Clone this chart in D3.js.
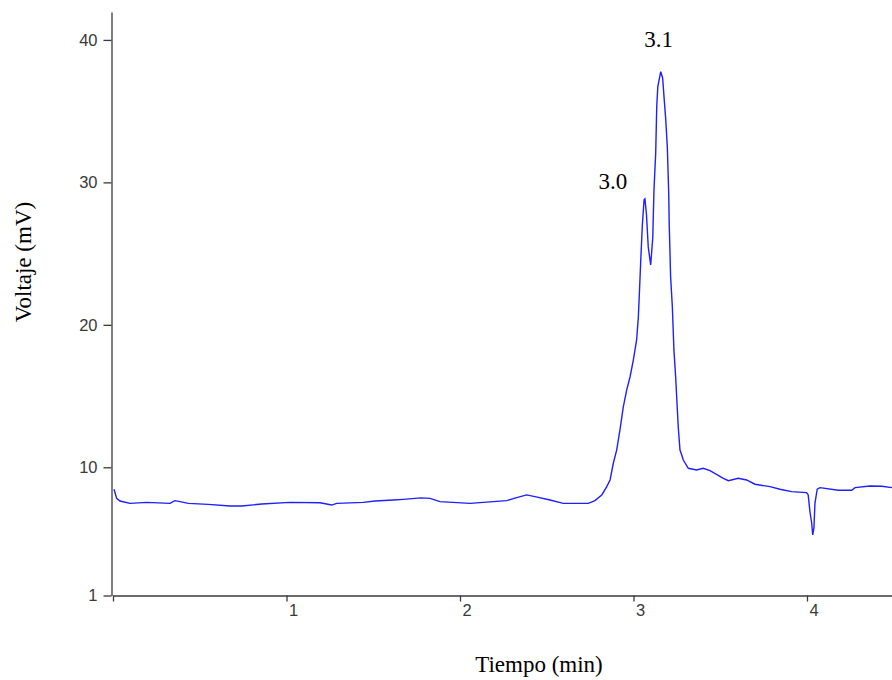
<!DOCTYPE html>
<html>
<head>
  <meta charset="UTF-8">
  <style>
    body { margin: 0; background: #fff; }
    .axis-marks text { font-family: 'Liberation Sans', Arial, sans-serif; font-size: 16.5px; fill: #3a3a3a; }
    .axis-marks path, .axis-marks line { stroke: #3a3a3a; stroke-width: 1.3px; }
    .axis-label, .peak-label { font-family: 'Liberation Serif', 'Times New Roman', serif; font-size: 23px; fill: #000; }
  </style>
</head>
<body>
  <svg id="chart" width="892" height="680"></svg>
  <script src="https://d3js.org/d3.v7.min.js"></script>
  <script>
    // time (min) and voltage (mV)
    let tiempo = [0.006, 0.021, 0.040, 0.098, 0.194, 0.329, 0.357, 0.386, 0.434, 0.549,
      0.674, 0.742, 0.857, 1.020, 1.193, 1.261, 1.289, 1.443, 1.510, 1.616,
      1.673, 1.775, 1.827, 1.885, 2.058, 2.192, 2.269, 2.327, 2.384, 2.432,
      2.519, 2.595, 2.739, 2.778, 2.817, 2.846, 2.865, 2.884, 2.903, 2.922,
      2.941, 2.961, 2.980, 2.999, 3.018, 3.028, 3.033, 3.042, 3.051, 3.061,
      3.066, 3.075, 3.085, 3.099, 3.111, 3.118, 3.128, 3.134, 3.140, 3.157,
      3.168, 3.176, 3.186, 3.195, 3.203, 3.206, 3.214, 3.224, 3.233, 3.243,
      3.252, 3.258, 3.268, 3.278, 3.287, 3.316, 3.364, 3.402, 3.441, 3.518,
      3.547, 3.604, 3.652, 3.700, 3.787, 3.844, 3.912, 3.998, 4.007, 4.017,
      4.027, 4.033, 4.040, 4.046, 4.059, 4.075, 4.180, 4.258, 4.277, 4.363,
      4.431, 4.490];
    let voltaje = [8.46, 7.82, 7.63, 7.47, 7.54, 7.47, 7.66, 7.59, 7.47, 7.40,
      7.28, 7.28, 7.42, 7.54, 7.51, 7.35, 7.47, 7.54, 7.63, 7.70,
      7.75, 7.85, 7.82, 7.59, 7.47, 7.59, 7.66, 7.87, 8.06, 7.94,
      7.70, 7.47, 7.47, 7.66, 8.06, 8.64, 9.11, 10.30, 11.21, 12.62,
      14.23, 15.43, 16.34, 17.53, 18.94, 20.55, 21.96, 24.55, 27.01, 28.77,
      28.84, 27.71, 25.47, 24.20, 26.10, 29.47, 32.07, 35.30, 36.70, 37.77,
      37.33, 36.00, 34.38, 32.49, 29.26, 27.01, 23.36, 21.25, 18.24, 16.34,
      14.23, 12.83, 11.21, 10.86, 10.51, 9.93, 9.81, 9.93, 9.76, 9.23,
      9.06, 9.23, 9.11, 8.81, 8.64, 8.46, 8.29, 8.22, 8.06, 6.88,
      6.09, 5.25, 5.74, 7.49, 8.46, 8.57, 8.39, 8.39, 8.57, 8.69,
      8.67, 8.57];

    let xTicks = [0, 1, 2, 3, 4];
    let yTicks = [1, 10, 20, 30, 40];
    let peakNames = ["3.0", "3.1"];
    let peakTimes = [3.066, 3.157];
    let peakVolts = [28.84, 37.77];

    let data = tiempo.map((t, i) => ({ t: t, v: voltaje[i] }));

    let svg = d3.select("#chart");

    let x = d3.scaleLinear().domain([0, 4.49]).range([113, 892]);
    let y = d3.scaleLinear().domain([1, 41.96]).range([595.5, 12]);

    // X axis
    let gx = svg.append("g")
      .attr("class", "axis-marks")
      .attr("transform", "translate(0,595.5)")
      .call(d3.axisBottom(x).tickValues(xTicks).tickSize(6).tickSizeOuter(0)
        .tickFormat(d => d === 0 ? "" : d));
    gx.selectAll("text")
      .attr("text-anchor", "start")
      .attr("x", 2)
      .attr("y", 9)
      .attr("dy", "0.71em");

    // Y axis
    svg.append("g")
      .attr("class", "axis-marks")
      .attr("transform", "translate(111.5,0)")
      .call(d3.axisLeft(y).tickValues(yTicks).tickSize(8).tickPadding(6).tickSizeOuter(0));

    svg.selectAll(".axis-marks .domain").attr("fill", "none");

    // trace
    svg.append("path")
      .datum(data)
      .attr("fill", "none")
      .attr("stroke", "#1f1fff")
      .attr("stroke-width", 1.4)
      .attr("d", d3.line().x(d => x(d.t)).y(d => y(d.v)));

    // peak labels
    svg.selectAll(".peak-label")
      .data(peakNames)
      .enter()
      .append("text")
        .attr("class", "peak-label")
        .attr("text-anchor", "middle")
        .attr("x", (d, i) => x(peakTimes[i]) - (i === 0 ? 32 : 2))
        .attr("y", (d, i) => y(peakVolts[i]) - (i === 0 ? 10 : 25))
        .text(d => d);

    // axis titles
    svg.append("text")
      .attr("class", "axis-label")
      .attr("text-anchor", "middle")
      .attr("x", 539)
      .attr("y", 672)
      .text("Tiempo (min)");

    svg.append("text")
      .attr("class", "axis-label")
      .attr("text-anchor", "middle")
      .attr("transform", "translate(31,262) rotate(-90)")
      .text("Voltaje (mV)");
  </script>
</body>
</html>
